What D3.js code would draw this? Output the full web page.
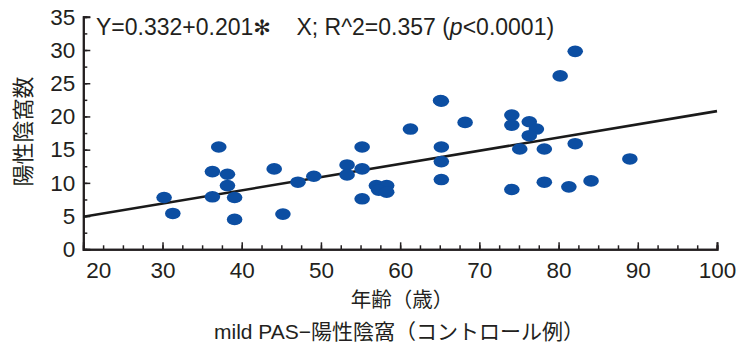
<!DOCTYPE html>
<html>
<head>
<meta charset="utf-8">
<script src="https://cdn.jsdelivr.net/npm/d3@7"></script>
<style>
  body { margin: 0; background: #fff; }
  svg text { font-family: "Liberation Sans", "Noto Sans CJK JP", sans-serif; fill: #231f20; }
</style>
</head>
<body>
<div id="chart"></div>
<script>
// age (x) and crypt count (y)
var ages = [30.2, 31.3, 37.1, 36.3, 38.2, 38.2, 36.3, 39.1, 39.1, 44.1,
            45.2, 47.1, 49.1, 53.3, 53.3, 55.2, 55.2, 55.2, 57.0, 58.3,
            57.3, 58.3, 61.3, 65.1, 65.2, 65.2, 65.2, 65.2, 68.2, 74.1,
            74.1, 74.1, 75.1, 76.3, 77.2, 76.3, 78.2, 78.2, 80.2, 82.1,
            82.1, 81.3, 84.1, 89.0];
var counts = [7.8, 5.4, 15.4, 11.7, 11.3, 9.6, 7.9, 7.8, 4.5, 12.1,
              5.3, 10.1, 11.0, 12.7, 11.2, 15.4, 12.1, 7.6, 9.6, 9.6,
              8.9, 8.6, 18.1, 22.4, 22.3, 15.4, 13.2, 10.5, 19.1, 20.2,
              18.7, 9.0, 15.1, 19.2, 18.1, 17.1, 15.1, 10.1, 26.1, 29.8,
              15.9, 9.4, 10.3, 13.6];

// regression line end points
var fitX = [20, 100];
var fitY = [4.9, 20.8];

var xMajor = [20, 30, 40, 50, 60, 70, 80, 90, 100];
var yMajor = [0, 5, 10, 15, 20, 25, 30, 35];

var full_width = 743, full_height = 345;
var margin = {left: 83.3, top: 16.8, right: 26, bottom: 95.7};
var width = full_width - margin.left - margin.right;
var height = full_height - margin.top - margin.bottom;

var svg = d3.select("#chart").append("svg")
    .attr("width", full_width)
    .attr("height", full_height);

var chart = svg.append("g")
    .attr("transform", "translate(" + margin.left + "," + margin.top + ")");

var x = d3.scaleLinear().domain([20, 100]).range([0, width]);
var y = d3.scaleLinear().domain([0, 35]).range([height, 0]);

var xMinor = d3.range(20, 100.1, 2.5);
var yMinor = d3.range(0, 35.1, 2.5);

/*-------------axes---------------------*/

chart.append("g")
    .attr("class", "axis")
    .attr("transform", "translate(0," + height + ")")
    .call(d3.axisBottom(x).tickValues(xMinor).tickSize(-4).tickFormat(""));

var xAxis = chart.append("g")
    .attr("class", "axis")
    .attr("transform", "translate(0," + height + ")")
    .call(d3.axisBottom(x).tickValues(xMajor).tickSize(-7).tickPadding(13).tickFormat(d3.format("d")));

chart.append("g")
    .attr("class", "axis")
    .call(d3.axisLeft(y).tickValues(yMinor).tickSize(-4).tickFormat(""));

chart.append("g")
    .attr("class", "axis")
    .call(d3.axisLeft(y).tickValues(yMajor).tickSize(-7).tickPadding(8).tickFormat(d3.format("d")));

chart.selectAll(".axis path.domain").attr("stroke", "#231f20").attr("stroke-width", 2);
chart.selectAll(".axis .tick line").attr("stroke", "#231f20").attr("stroke-width", 1.5);
chart.selectAll(".axis text")
    .style("font-size", "22.5px")
    .attr("fill", "#231f20");

// first x label sits clear of the y axis
xAxis.selectAll(".tick text").filter(function(d){ return d === 20; }).attr("dx", 15);

/*-------------marks---------------------*/

chart.append("line")
    .attr("x1", x(fitX[0])).attr("y1", y(fitY[0]))
    .attr("x2", x(fitX[1])).attr("y2", y(fitY[1]))
    .attr("stroke", "#1a1a1a")
    .attr("stroke-width", 2.6);

chart.selectAll("ellipse.pt")
    .data(d3.range(ages.length))
    .enter().append("ellipse")
    .attr("class", "pt")
    .attr("cx", function(i){ return x(ages[i]); })
    .attr("cy", function(i){ return y(counts[i]); })
    .attr("rx", 7.8)
    .attr("ry", 5.8)
    .attr("fill", "#0c4ea2");

/*-------------texts---------------------*/

var eq = svg.append("text")
    .attr("x", 96)
    .attr("y", 35)
    .style("font-size", "23px");
eq.append("tspan").text("Y=0.332+0.201");
eq.append("tspan").style("font-family", "DejaVu Sans").style("font-size", "21px").text("\u273B");
eq.append("tspan").text("\u00A0\u00A0\u00A0 X; R^2=0.357 (");
eq.append("tspan").style("font-style", "italic").text("p");
eq.append("tspan").text("<0.0001)");

svg.append("text")
    .attr("transform", "translate(31," + 131.5 + ") rotate(-90)")
    .attr("text-anchor", "middle")
    .style("font-size", "22px")
    .text("陽性陰窩数");

svg.append("text")
    .attr("x", 402)
    .attr("y", 307)
    .attr("text-anchor", "middle")
    .style("font-size", "20.5px")
    .text("年齢（歳）");

svg.append("text")
    .attr("x", 399)
    .attr("y", 339)
    .attr("text-anchor", "middle")
    .style("font-size", "21px")
    .text("mild PAS\u2212陽性陰窩（コントロール例）");
</script>
</body>
</html>
